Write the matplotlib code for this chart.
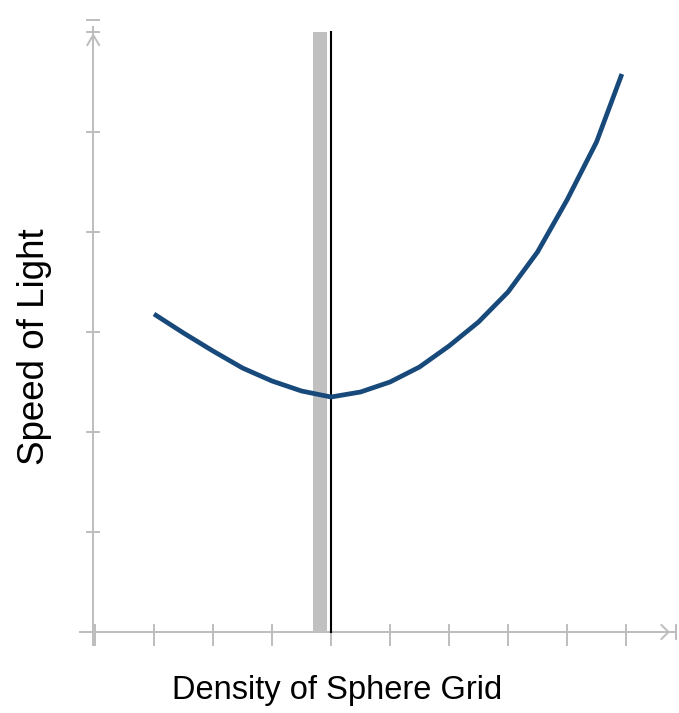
import matplotlib.pyplot as plt

# Curve (x in tick units, y in gridline units).
x_values = [1, 1.5, 2, 2.5, 3, 3.5, 4, 4.5, 5, 5.5, 6, 6.5, 7, 7.5, 8, 8.5, 8.93]
y_values = [3.18, 2.99, 2.81, 2.64, 2.51, 2.41, 2.35, 2.40, 2.50, 2.65,
            2.86, 3.10, 3.40, 3.80, 4.32, 4.90, 5.58]
x_ticks = list(range(10))
y_ticks = list(range(7))
band = (3.69, 3.93)
marker_x = 4.0
x_label = 'Density of Sphere Grid'
y_label = 'Speed of Light'

axis_color = '#bdbdbd'

fig = plt.figure(figsize=(6.79, 7.13), dpi=100)
ax = fig.add_axes([0, 0, 1, 1])
ax.set_xlim(-1.61, 9.898)
ax.set_ylim(-0.81, 6.32)
ax.axis('off')

# Axes lines with arrows.
ax.plot([-0.25, 9.85], [0, 0], color=axis_color, lw=1.4)
ax.plot([-0.03, -0.03], [-0.13, 6.05], color=axis_color, lw=1.4)
ax.plot([9.6, 9.72, 9.6], [0.07, 0, -0.07], color=axis_color, lw=1.4)
ax.plot([9.85, 9.85], [-0.07, 0.07], color=axis_color, lw=1.4)
ax.plot([-0.13, -0.03, 0.07], [5.87, 5.97, 5.87], color=axis_color, lw=1.4)
ax.plot([-0.13, 0.07], [6.12, 6.12], color=axis_color, lw=1.4)

# Tick marks.
for t in x_ticks:
    ax.plot([t, t], [-0.13, 0.07], color=axis_color, lw=1.4)
for t in y_ticks[1:]:
    ax.plot([-0.13, 0.07], [t, t], color=axis_color, lw=1.4)

# Gray band and black marker line.
ax.fill_between(band, 0, 6, color='#c0c0c0', lw=0, zorder=2)
ax.plot([marker_x, marker_x], [0, 6], color='black', lw=1.5, zorder=3)

# The curve.
ax.plot(x_values, y_values, color='#17497a', lw=3.4,
        solid_capstyle='butt', solid_joinstyle='round', zorder=4)

ax.text(4.1, -0.58, x_label, fontsize=23.5, family='Liberation Sans',
        ha='center', va='center')
ax.text(-1.02, 2.85, y_label, fontsize=26.5, family='Liberation Sans',
        rotation=90, ha='center', va='center')

fig.savefig('out.png', dpi=100)
